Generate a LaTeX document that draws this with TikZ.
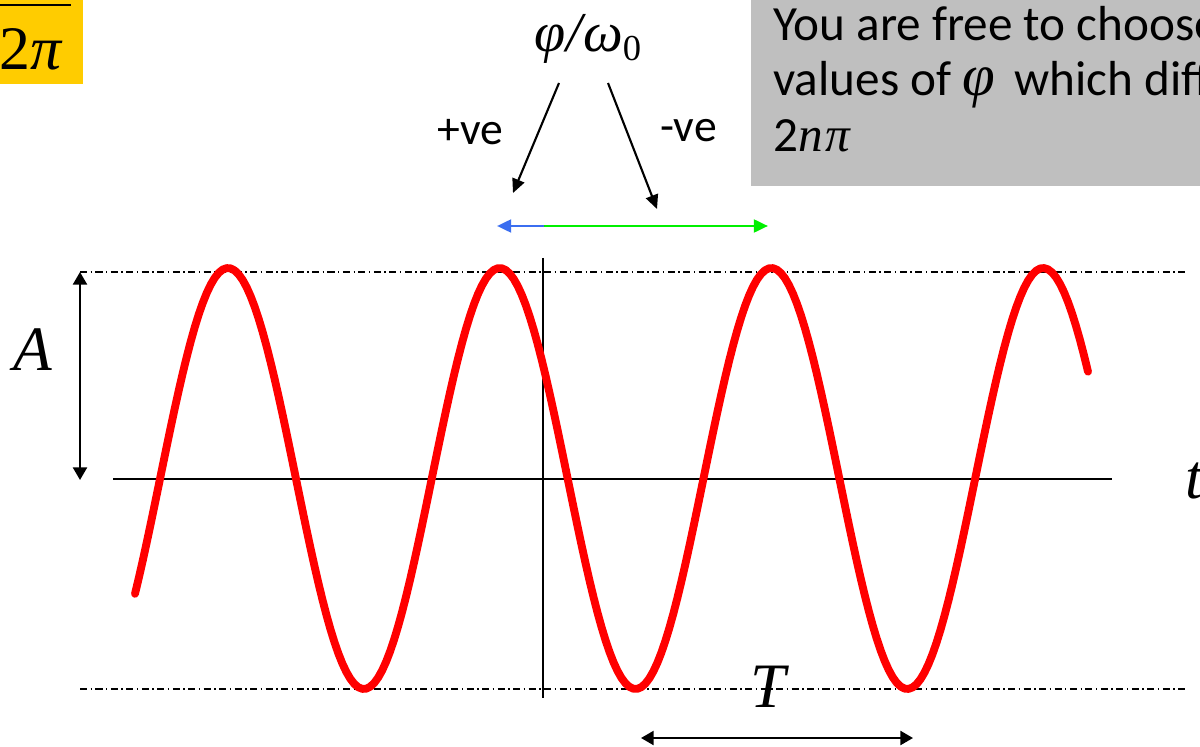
\documentclass[tikz,border=0pt]{standalone}
\usepackage{fontspec}
\setmainfont{Carlito}
\newfontfamily\serifmath{Liberation Serif}
\usetikzlibrary{arrows.meta,positioning}
\definecolor{WaveRed}{RGB}{255,0,0}
\definecolor{BoxGrey}{RGB}{191,191,191}
\definecolor{Gold}{RGB}{255,204,0}
\definecolor{PhaseBlue}{RGB}{59,110,240}
\definecolor{PhaseGreen}{RGB}{0,240,0}
\tikzset{
  >=Triangle,
  wave/.style={draw=WaveRed,line width=5.6pt,line join=round,line cap=round},
  guide/.style={line width=.8pt,dash pattern=on 5pt off 2.5pt on 1pt off 2.5pt},
  axis/.style={line width=1pt},
  dim/.style={{Triangle[length=9pt,width=10pt]}-{Triangle[length=9pt,width=10pt]},line width=1.5pt},
  pointer/.style={-{Triangle[length=10pt,width=9pt]},line width=1.5pt},
  phaseShift/.style={line width=2pt},
  note/.style={font=\fontsize{35}{39}\selectfont,anchor=base west,inner sep=0pt},
  sign/.style={font=\fontsize{32.5}{36}\selectfont,anchor=base west,inner sep=0pt},
  sym/.style={font=\serifmath\itshape\fontsize{45}{50}\selectfont,inner sep=0pt}
}
\begin{document}
\begin{tikzpicture}[x=0.025cm,y=-0.025cm]
  \useasboundingbox (0,0) rectangle (1200,747);
  \clip (0,0) rectangle (1200,747);
  % boxes at the top
  \fill[Gold] (0,0) rectangle (83,84);
  \draw[line width=2pt] (0,5) -- (71,5);
  \node[sym,anchor=base west,font=\serifmath\fontsize{44}{50}\selectfont] (twopi) at (-1,70) {2\textit{π}};
  \fill[BoxGrey] (751,0) rectangle (1200,186);
  \node[note] (line1) at (773,41) {You are free to choose};
  \node[note] (line2) at (773,96) {values of {\serifmath\itshape\fontsize{42}{42}\selectfont φ}\, which diff};
  \node[note] (line3) at (773,152) {2{\serifmath\itshape n\kern2pt π}};
  % guides and axes
  \coordinate (topL) at (80,272);  \coordinate (topR) at (1186,272);
  \coordinate (botL) at (80,689);  \coordinate (botR) at (1186,689);
  \draw[guide] (topL) -- (topR);
  \draw[guide] (botL) -- (botR);
  \coordinate (axL) at (113,479);  \coordinate (axR) at (1112,479);
  \coordinate (vT) at (543,258);   \coordinate (vB) at (543,698);
  \draw[axis] (axL) -- (axR);
  \draw[axis] (vT) -- (vB);
  \node[sym,anchor=base west] (tlab) at (1185,498) {t};
  % amplitude and period
  \coordinate (ampT) at (80,272);  \coordinate (ampB) at (80,480);
  \draw[dim] (ampT) -- (ampB);
  \node[sym,anchor=base] (alab) at (33,370) {A};
  \coordinate (perL) at (641,738); \coordinate (perR) at (913,738);
  \draw[dim] (perL) -- (perR);
  \node[sym,anchor=base] (tplab) at (768,707) {T};
  % the wave
  \draw[wave] plot[domain=135:1088,samples=240] (\x,{478.5-210.5*cos((\x-228)/271.7*360)});
  % phase shift
  \node[sym,anchor=base,font=\serifmath\itshape\fontsize{40}{44}\selectfont] (phase) at (588,52) {φ/\kern1pt ω\raisebox{-0.32ex}{\upshape\fontsize{26}{26}\selectfont 0}};
  \coordinate (plusS) at (559,83);  \coordinate (plusE) at (513,193);
  \coordinate (minusS) at (608,83); \coordinate (minusE) at (657,209);
  \draw[pointer] (plusS) -- (plusE);
  \draw[pointer] (minusS) -- (minusE);
  \node[sign] (plus) at (437,145) {+ve};
  \node[sign] (minus) at (660,142) {-ve};
  \coordinate (ph0) at (544,226);
  \coordinate (phL) at (497,226);
  \coordinate (phR) at (768,226);
  \draw[phaseShift,draw=PhaseBlue,-{Triangle[length=10pt,width=9pt]}] (ph0) -- (phL);
  \draw[phaseShift,draw=PhaseGreen,-{Triangle[length=10pt,width=9pt]}] (ph0) -- (phR);
\end{tikzpicture}
\end{document}
